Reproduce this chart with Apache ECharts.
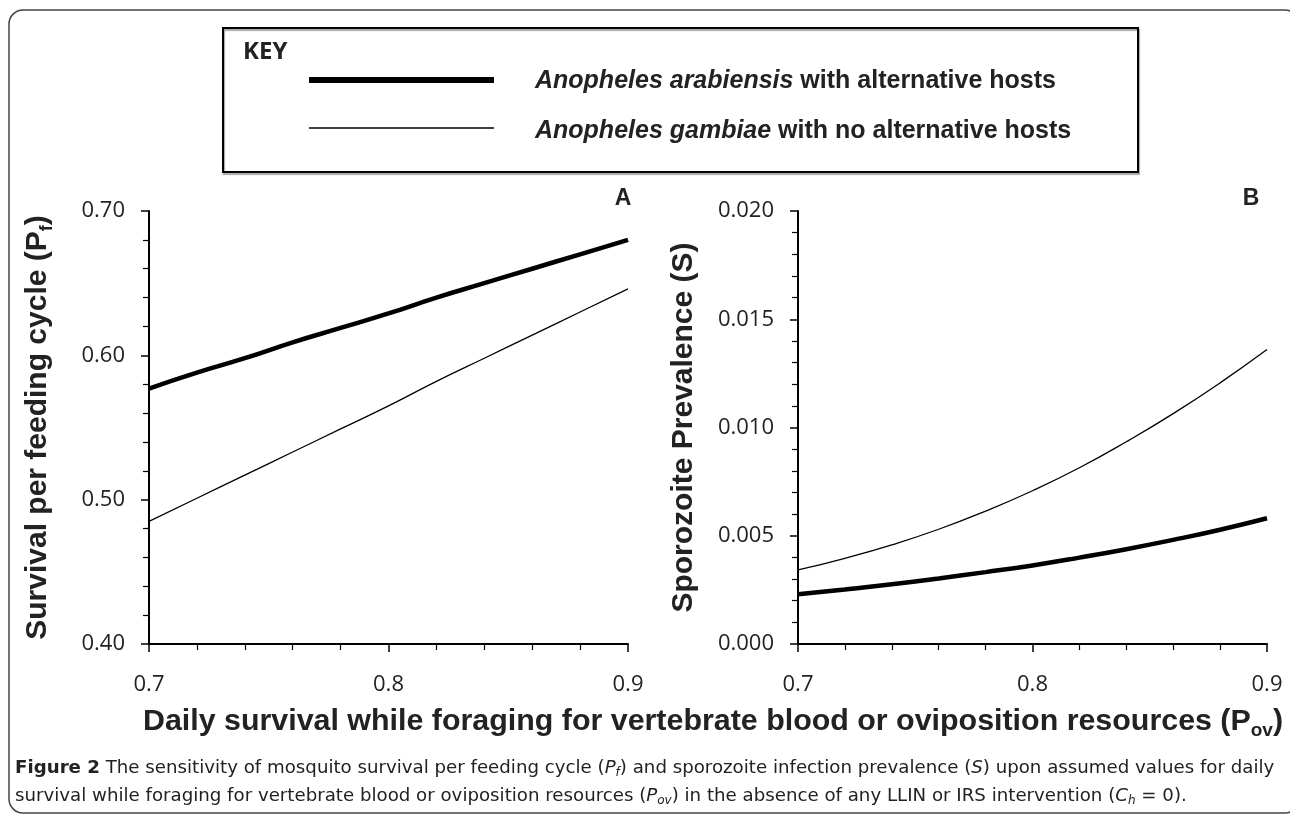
<!DOCTYPE html>
<html>
<head>
<meta charset="utf-8">
<script src="https://cdn.jsdelivr.net/npm/echarts@6/dist/echarts.min.js"></script>
<style>
html,body{margin:0;padding:0;background:#fff;}
#chart{width:1290px;height:817px;}
</style>
</head>
<body>
<div id="chart"></div>
<script>
// Daily survival while foraging (P_ov)
const povValues = [0.70, 0.72, 0.74, 0.76, 0.78, 0.80, 0.82, 0.84, 0.86, 0.88, 0.90];
// Panel A: survival per feeding cycle (P_f)
const pfArabiensis = [0.577, 0.588, 0.598, 0.609, 0.619, 0.629, 0.640, 0.650, 0.660, 0.670, 0.680];
const pfGambiae    = [0.485, 0.501, 0.517, 0.533, 0.549, 0.565, 0.582, 0.598, 0.614, 0.630, 0.646];
// Panel B: sporozoite prevalence (S)
const sArabiensis = [0.00230, 0.00252, 0.00276, 0.00303, 0.00332, 0.00363, 0.00399, 0.00438, 0.00481, 0.00528, 0.00581];
const sGambiae    = [0.00342, 0.00396, 0.00458, 0.00530, 0.00614, 0.00708, 0.00814, 0.00934, 0.01064, 0.01206, 0.01360];
// Axis tick settings
const xTicks = {min: 0.7, max: 0.9, interval: 0.1};
const yTicksA = {min: 0.4, max: 0.7, interval: 0.1};
const yTicksB = {min: 0, max: 0.02, interval: 0.005};

const seriesA1 = povValues.map((x, i) => [x, pfArabiensis[i]]);
const seriesA2 = povValues.map((x, i) => [x, pfGambiae[i]]);
const seriesB1 = povValues.map((x, i) => [x, sArabiensis[i]]);
const seriesB2 = povValues.map((x, i) => [x, sGambiae[i]]);

const tickFont = 'Open Sans';
const boldFont = 'Liberation Sans, Arial, sans-serif';
const capFont = 'DejaVu Sans';

const capLine1 = 'The sensitivity of mosquito survival per feeding cycle (Pf) and sporozoite infection prevalence (S) upon assumed values for daily';
// fit caption size to the reference line width
const mctx = document.createElement('canvas').getContext('2d');
mctx.font = 'bold 20px ' + capFont;
const w1 = mctx.measureText('Figure 2 ').width;
mctx.font = '20px ' + capFont;
const w2 = mctx.measureText(capLine1).width;
let capSize = 20 * 1260 / (w1 + w2);
capSize = Math.round(capSize * 10) / 10;
const subSize = Math.round(capSize * 0.65);

function xAxisCfg(gi) {
  return {
    gridIndex: gi, type: 'value', min: xTicks.min, max: xTicks.max, interval: xTicks.interval,
    axisLine: {onZero: false, lineStyle: {color: '#000', width: 2}},
    axisTick: {length: 8, lineStyle: {color: '#000', width: 1.5}},
    minorTick: {show: true, splitNumber: 5, length: 6, lineStyle: {color: '#000', width: 1.2}},
    splitLine: {show: false}, minorSplitLine: {show: false},
    axisLabel: {formatter: v => v.toFixed(1), color: '#222', fontSize: 22, fontFamily: tickFont, margin: 30}
  };
}
function yAxisCfg(gi, t, dec, name, gap) {
  return {
    gridIndex: gi, type: 'value', min: t.min, max: t.max, interval: t.interval,
    axisLine: {onZero: false, lineStyle: {color: '#000', width: 2}},
    axisTick: {length: 8, lineStyle: {color: '#000', width: 1.5}},
    minorTick: {show: true, splitNumber: 5, length: 6, lineStyle: {color: '#000', width: 1.2}},
    splitLine: {show: false}, minorSplitLine: {show: false},
    axisLabel: {formatter: v => v.toFixed(dec), color: '#222', fontSize: 22, fontFamily: tickFont, margin: 24},
    name: name, nameLocation: 'middle', nameGap: gap,
    nameTextStyle: {
      fontFamily: boldFont, fontWeight: 'bold', fontSize: 30, color: '#222',
      rich: {
        b: {fontFamily: boldFont, fontWeight: 'bold', fontSize: 30, color: '#222', lineHeight: 36},
        s: {fontFamily: boldFont, fontWeight: 'bold', fontSize: 18, color: '#222', verticalAlign: 'bottom', lineHeight: 36}
      }
    }
  };
}

const chart = echarts.init(document.getElementById('chart'));
chart.setOption({
  animation: false,
  backgroundColor: '#fff',
  grid: [
    {left: 149, top: 211, width: 479, height: 433},
    {left: 798, top: 211, width: 469, height: 433}
  ],
  xAxis: [xAxisCfg(0), xAxisCfg(1)],
  yAxis: [
    yAxisCfg(0, yTicksA, 2, '{b|Survival per feeding cycle (P}{s|f}{b|)}', 93),
    yAxisCfg(1, yTicksB, 3, '{b|Sporozoite Prevalence (S)}', 96)
  ],
  series: [
    {type: 'line', showSymbol: false, smooth: true, silent: true, name: 'Anopheles arabiensis with alternative hosts', xAxisIndex: 0, yAxisIndex: 0, data: seriesA1, lineStyle: {color: '#000', width: 4.5}},
    {type: 'line', showSymbol: false, smooth: true, silent: true, name: 'Anopheles gambiae with no alternative hosts', xAxisIndex: 0, yAxisIndex: 0, data: seriesA2, lineStyle: {color: '#000', width: 1.3}},
    {type: 'line', showSymbol: false, smooth: true, silent: true, name: 'Anopheles arabiensis with alternative hosts', xAxisIndex: 1, yAxisIndex: 1, data: seriesB1, lineStyle: {color: '#000', width: 4.5}},
    {type: 'line', showSymbol: false, smooth: true, silent: true, name: 'Anopheles gambiae with no alternative hosts', xAxisIndex: 1, yAxisIndex: 1, data: seriesB2, lineStyle: {color: '#000', width: 1.3}}
  ],
  graphic: [
    {type: 'rect', shape: {x: 9, y: 10, width: 1290, height: 803, r: 14}, style: {fill: 'none', stroke: '#444', lineWidth: 1.5}, silent: true},
    {type: 'rect', shape: {x: 223, y: 28, width: 915, height: 144}, style: {fill: 'none', stroke: '#000', lineWidth: 2, shadowColor: 'rgba(0,0,0,0.35)', shadowOffsetX: 1, shadowOffsetY: 2, shadowBlur: 1}, silent: true},
    {type: 'text', x: 243, y: 52, style: {text: 'KEY', fontFamily: 'Open Sans', fontWeight: 'bold', fontSize: 24, fill: '#222', verticalAlign: 'middle'}},
    {type: 'line', shape: {x1: 309, y1: 80, x2: 494, y2: 80}, style: {stroke: '#000', lineWidth: 6}},
    {type: 'line', shape: {x1: 309, y1: 128, x2: 494, y2: 128}, style: {stroke: '#000', lineWidth: 1.5}},
    {type: 'text', x: 535, y: 81, style: {
      text: '{i|Anopheles arabiensis} {n|with alternative hosts}', verticalAlign: 'middle',
      rich: {i: {fontFamily: boldFont, fontWeight: 'bold', fontStyle: 'italic', fontSize: 25, fill: '#222'},
             n: {fontFamily: boldFont, fontWeight: 'bold', fontSize: 25, fill: '#222'}},
      fontFamily: boldFont, fontWeight: 'bold', fontSize: 25, fill: '#222'}},
    {type: 'text', x: 535, y: 131, style: {
      text: '{i|Anopheles gambiae} {n|with no alternative hosts}', verticalAlign: 'middle',
      rich: {i: {fontFamily: boldFont, fontWeight: 'bold', fontStyle: 'italic', fontSize: 25, fill: '#222'},
             n: {fontFamily: boldFont, fontWeight: 'bold', fontSize: 25, fill: '#222'}},
      fontFamily: boldFont, fontWeight: 'bold', fontSize: 25, fill: '#222'}},
    {type: 'text', x: 623, y: 199, style: {text: 'A', fontFamily: boldFont, fontWeight: 'bold', fontSize: 23, fill: '#222', align: 'center', verticalAlign: 'middle'}},
    {type: 'text', x: 1251, y: 199, style: {text: 'B', fontFamily: boldFont, fontWeight: 'bold', fontSize: 23, fill: '#222', align: 'center', verticalAlign: 'middle'}},
    {type: 'text', x: 713, y: 722, style: {
      text: '{b|Daily survival while foraging for vertebrate blood or oviposition resources (P}{s|ov}{b|)}',
      align: 'center', verticalAlign: 'middle',
      rich: {b: {fontFamily: boldFont, fontWeight: 'bold', fontSize: 30.4, fill: '#222', lineHeight: 36},
             s: {fontFamily: boldFont, fontWeight: 'bold', fontSize: 19, fill: '#222', verticalAlign: 'bottom', lineHeight: 36}}}},
    {type: 'text', x: 15, y: 768, style: {
      text: '{fb|Figure 2} The sensitivity of mosquito survival per feeding cycle ({i|P}{is|f}) and sporozoite infection prevalence ({i|S}) upon assumed values for daily',
      verticalAlign: 'middle', fontFamily: capFont, fontSize: capSize, fill: '#222',
      rich: {fb: {fontFamily: capFont, fontWeight: 'bold', fontSize: capSize, fill: '#222', lineHeight: 22},
             i: {fontFamily: capFont, fontStyle: 'italic', fontSize: capSize, fill: '#222', lineHeight: 22},
             is: {fontFamily: capFont, fontStyle: 'italic', fontSize: subSize, fill: '#222', verticalAlign: 'bottom', lineHeight: 22}}}},
    {type: 'text', x: 15, y: 796, style: {
      text: 'survival while foraging for vertebrate blood or oviposition resources ({i|P}{is|ov}) in the absence of any LLIN or IRS intervention ({i|C}{is|h} = 0).',
      verticalAlign: 'middle', fontFamily: capFont, fontSize: capSize, fill: '#222',
      rich: {i: {fontFamily: capFont, fontStyle: 'italic', fontSize: capSize, fill: '#222', lineHeight: 22},
             is: {fontFamily: capFont, fontStyle: 'italic', fontSize: subSize, fill: '#222', verticalAlign: 'bottom', lineHeight: 22}}}}
  ]
});
</script>
</body>
</html>
